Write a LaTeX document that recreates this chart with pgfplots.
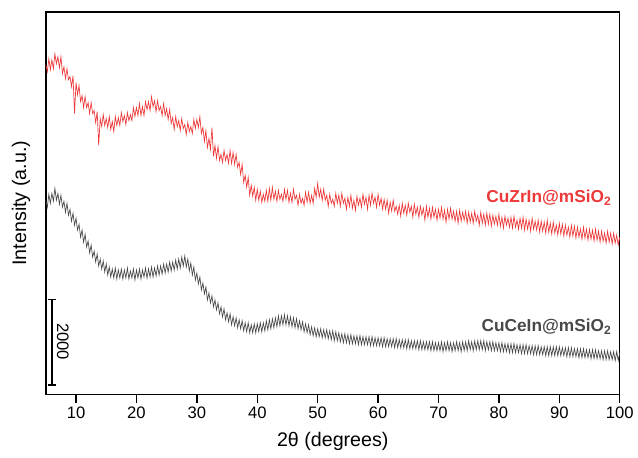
\documentclass[border=0pt]{standalone}
\usepackage{pgfplots}
\pgfplotsset{compat=1.18}
\usepackage{fontspec}
\setmainfont{Liberation Sans}
\usetikzlibrary{arrows.meta}
\definecolor{redline}{RGB}{236,56,56}
\definecolor{grayline}{RGB}{72,72,72}
\begin{document}
\begin{tikzpicture}
\begin{axis}[
  name=ax,
  scale only axis,
  width=432pt, height=288pt,
  xmin=5, xmax=100, ymin=0, ymax=384,
  xtick={10,20,...,100},
  ytick=\empty,
  xtick pos=bottom,
  tick align=outside,
  major tick length=6pt,
  axis line style={line width=1.1pt},
  every tick/.style={line width=1pt, black},
  /pgf/number format/assume math mode=true,
  tick label style={font=\fontsize{12.5}{14}\selectfont},
  xlabel={2θ (degrees)},
  ylabel={Intensity (a.u.)},
  label style={font=\fontsize{14.8}{17}\selectfont},
  xlabel style={yshift=-3pt},
  ylabel style={at={(axis description cs:-0.019,0.5)}, anchor=south},
  clip=false,
]
\addplot[redline, line width=0.5pt] coordinates {
(5,331)(5.25,324)(5.5,337)(5.75,326)(6,336)(6.25,327)(6.5,342)(6.75,332)(7,339)(7.25,328)(7.5,339)(7.75,322)(8,329)(8.25,317)(8.5,327)(8.75,316)(9,319)(9.25,309)(9.5,320)(9.75,282)
(10,313)(10.25,301)(10.5,310)(10.75,294)(11,300)(11.25,288)(11.5,299)(11.75,288)(12,293)(12.25,282)(12.5,293)(12.75,282)(13,285)(13.25,273)(13.5,284)(13.75,250)(14,277)(14.25,269)(14.5,281)(14.75,270)
(15,277)(15.25,268)(15.5,279)(15.75,266)(16,274)(16.25,264)(16.5,279)(16.75,270)(17,278)(17.25,270)(17.5,283)(17.75,274)(18,280)(18.25,271)(18.5,283)(18.75,275)(19,281)(19.25,275)(19.5,288)(19.75,279)
(20,288)(20.25,280)(20.5,292)(20.75,280)(21,289)(21.25,280)(21.5,294)(21.75,286)(22,294)(22.25,285)(22.5,299)(22.75,289)(23,295)(23.25,284)(23.5,295)(23.75,285)(24,289)(24.25,280)(24.5,292)(24.75,280)
(25,287)(25.25,276)(25.5,286)(25.75,272)(26,278)(26.25,266)(26.5,279)(26.75,269)(27,275)(27.25,265)(27.5,277)(27.75,267)(28,271)(28.25,261)(28.5,273)(28.75,264)(29,269)(29.25,262)(29.5,276)(29.75,267)
(30,276)(30.25,268)(30.5,279)(30.75,262)(31,268)(31.25,254)(31.5,265)(31.75,248)(32,257)(32.25,246)(32.5,268)(32.75,239)(33,250)(33.25,237)(33.5,249)(33.75,235)(34,241)(34.25,233)(34.5,245)(34.75,235)
(35,241)(35.25,232)(35.5,245)(35.75,232)(36,243)(36.25,231)(36.5,241)(36.75,228)(37,233)(37.25,221)(37.5,231)(37.75,213)(38,220)(38.25,208)(38.5,218)(38.75,200)(39,210)(39.25,199)(39.5,208)(39.75,195)
(40,206)(40.25,195)(40.5,204)(40.75,193)(41,201)(41.25,194)(41.5,205)(41.75,194)(42,207)(42.25,195)(42.5,208)(42.75,196)(43,204)(43.25,194)(43.5,205)(43.75,196)(44,201)(44.25,194)(44.5,206)(44.75,196)
(45,205)(45.25,193)(45.5,202)(45.75,193)(46,206)(46.25,196)(46.5,200)(46.75,190)(47,201)(47.25,192)(47.5,197)(47.75,190)(48,203)(48.25,193)(48.5,203)(48.75,192)(49,200)(49.25,192)(49.5,207)(49.75,198)
(50,212)(50.25,198)(50.5,206)(50.75,195)(51,206)(51.25,195)(51.5,200)(51.75,189)(52,201)(52.25,192)(52.5,196)(52.75,189)(53,202)(53.25,192)(53.5,200)(53.75,189)(54,202)(54.25,192)(54.5,197)(54.75,186)
(55,198)(55.25,189)(55.5,200)(55.75,187)(56,195)(56.25,185)(56.5,199)(56.75,190)(57,197)(57.25,188)(57.5,201)(57.75,191)(58,198)(58.25,186)(58.5,200)(58.75,190)(59,202)(59.25,192)(59.5,198)(59.75,188)
(60,201)(60.25,190)(60.5,197)(60.75,186)(61,196)(61.25,186)(61.5,195)(61.75,182)(62,193)(62.25,184)(62.5,195)(62.75,184)(63,189)(63.25,181)(63.5,190)(63.75,179)(64,192)(64.25,182)(64.5,190)(64.75,180)
(65,192)(65.25,183)(65.5,189)(65.75,178)(66,191)(66.25,181)(66.5,188)(66.75,178)(67,189)(67.25,180)(67.5,187)(67.75,175)(68,189)(68.25,178)(68.5,187)(68.75,176)(69,188)(69.25,178)(69.5,186)(69.75,175)
(70,186)(70.25,177)(70.5,188)(70.75,176)(71,185)(71.25,173)(71.5,186)(71.75,176)(72,187)(72.25,176)(72.5,184)(72.75,174)(73,184)(73.25,172)(73.5,185)(73.75,174)(74,183)(74.25,175)(74.5,184)(74.75,172)
(75,183)(75.25,173)(75.5,182)(75.75,172)(76,184)(76.25,174)(76.5,180)(76.75,170)(77,183)(77.25,172)(77.5,181)(77.75,170)(78,182)(78.25,171)(78.5,181)(78.75,169)(79,180)(79.25,171)(79.5,179)(79.75,170)
(80,181)(80.25,169)(80.5,178)(80.75,167)(81,179)(81.25,170)(81.5,177)(81.75,168)(82,178)(82.25,167)(82.5,179)(82.75,168)(83,175)(83.25,166)(83.5,177)(83.75,167)(84,178)(84.25,165)(84.5,176)(84.75,166)
(85,175)(85.25,164)(85.5,177)(85.75,166)(86,174)(86.25,165)(86.5,175)(86.75,163)(87,174)(87.25,164)(87.5,173)(87.75,162)(88,175)(88.25,163)(88.5,172)(88.75,161)(89,173)(89.25,162)(89.5,170)(89.75,160)
(90,172)(90.25,161)(90.5,171)(90.75,159)(91,170)(91.25,160)(91.5,168)(91.75,158)(92,170)(92.25,159)(92.5,169)(92.75,157)(93,168)(93.25,158)(93.5,166)(93.75,156)(94,168)(94.25,157)(94.5,166)(94.75,155)
(95,166)(95.25,156)(95.5,165)(95.75,154)(96,166)(96.25,155)(96.5,164)(96.75,153)(97,164)(97.25,154)(97.5,162)(97.75,152)(98,164)(98.25,153)(98.5,162)(98.75,151)(99,162)(99.25,152)(99.5,160)(99.75,150)(100,158)
};
\addplot[grayline, line width=0.5pt] coordinates {
(5,195)(5.25,188)(5.5,201)(5.75,192)(6,202)(6.25,194)(6.5,207)(6.75,195)(7,202)(7.25,191)(7.5,200)(7.75,188)(8,194)(8.25,183)(8.5,192)(8.75,180)(9,186)(9.25,174)(9.5,182)(9.75,170)
(10,177)(10.25,165)(10.5,171)(10.75,158)(11,165)(11.25,153)(11.5,161)(11.75,148)(12,154)(12.25,142)(12.5,150)(12.75,138)(13,144)(13.25,133)(13.5,141)(13.75,129)(14,136)(14.25,126)(14.5,134)(14.75,123)
(15,131)(15.25,120)(15.5,128)(15.75,118)(16,126)(16.25,117)(16.5,127)(16.75,116)(17,125)(17.25,117)(17.5,126)(17.75,116)(18,125)(18.25,117)(18.5,127)(18.75,116)(19,124)(19.25,117)(19.5,126)(19.75,115)
(20,125)(20.25,117)(20.5,126)(20.75,116)(21,125)(21.25,118)(21.5,127)(21.75,117)(22,126)(22.25,118)(22.5,128)(22.75,118)(23,127)(23.25,119)(23.5,129)(23.75,120)(24,129)(24.25,121)(24.5,131)(24.75,122)
(25,131)(25.25,123)(25.5,133)(25.75,124)(26,133)(26.25,125)(26.5,135)(26.75,126)(27,136)(27.25,127)(27.5,138)(27.75,129)(28,139)(28.25,128)(28.5,136)(28.75,124)(29,132)(29.25,120)(29.5,128)(29.75,115)
(30,122)(30.25,111)(30.5,118)(30.75,105)(31,112)(31.25,101)(31.5,108)(31.75,95)(32,102)(32.25,92)(32.5,99)(32.75,88)(33,95)(33.25,85)(33.5,92)(33.75,81)(34,88)(34.25,78)(34.5,86)(34.75,75)
(35,82)(35.25,73)(35.5,81)(35.75,70)(36,78)(36.25,69)(36.5,77)(36.75,67)(37,75)(37.25,66)(37.5,74)(37.75,64)(38,72)(38.25,63)(38.5,72)(38.75,62)(39,70)(39.25,62)(39.5,71)(39.75,62)
(40,71)(40.25,63)(40.5,72)(40.75,63)(41,72)(41.25,64)(41.5,74)(41.75,65)(42,75)(42.25,66)(42.5,76)(42.75,67)(43,77)(43.25,68)(43.5,79)(43.75,69)(44,79)(44.25,70)(44.5,80)(44.75,70)
(45,79)(45.25,69)(45.5,78)(45.75,68)(46,77)(46.25,67)(46.5,76)(46.75,66)(47,74)(47.25,65)(47.5,73)(47.75,63)(48,71)(48.25,62)(48.5,70)(48.75,60)(49,68)(49.25,59)(49.5,67)(49.75,58)
(50,66)(50.25,58)(50.5,66)(50.75,57)(51,65)(51.25,57)(51.5,65)(51.75,56)(52,64)(52.25,55)(52.5,64)(52.75,54)(53,63)(53.25,54)(53.5,62)(53.75,53)(54,61)(54.25,52)(54.5,61)(54.75,52)
(55,60)(55.25,51)(55.5,60)(55.75,51)(56,59)(56.25,51)(56.5,59)(56.75,50)(57,59)(57.25,50)(57.5,58)(57.75,50)(58,58)(58.25,50)(58.5,58)(58.75,49)(59,58)(59.25,49)(59.5,57)(59.75,49)
(60,57)(60.25,49)(60.5,57)(60.75,48)(61,57)(61.25,48)(61.5,56)(61.75,48)(62,56)(62.25,48)(62.5,56)(62.75,47)(63,56)(63.25,47)(63.5,55)(63.75,47)(64,55)(64.25,47)(64.5,55)(64.75,46)
(65,55)(65.25,46)(65.5,54)(65.75,46)(66,54)(66.25,46)(66.5,54)(66.75,45)(67,54)(67.25,45)(67.5,53)(67.75,45)(68,53)(68.25,45)(68.5,53)(68.75,44)(69,53)(69.25,44)(69.5,52)(69.75,44)
(70,52)(70.25,44)(70.5,53)(70.75,43)(71,52)(71.25,44)(71.5,53)(71.75,44)(72,52)(72.25,43)(72.5,52)(72.75,44)(73,53)(73.25,44)(73.5,52)(73.75,43)(74,53)(74.25,44)(74.5,53)(74.75,44)
(75,54)(75.25,45)(75.5,53)(75.75,44)(76,54)(76.25,45)(76.5,54)(76.75,45)(77,54)(77.25,45)(77.5,54)(77.75,44)(78,53)(78.25,45)(78.5,53)(78.75,44)(79,53)(79.25,44)(79.5,52)(79.75,44)
(80,52)(80.25,43)(80.5,52)(80.75,43)(81,51)(81.25,43)(81.5,51)(81.75,42)(82,51)(82.25,42)(82.5,51)(82.75,42)(83,50)(83.25,42)(83.5,50)(83.75,41)(84,50)(84.25,41)(84.5,50)(84.75,41)
(85,49)(85.25,41)(85.5,49)(85.75,40)(86,49)(86.25,40)(86.5,49)(86.75,40)(87,48)(87.25,40)(87.5,48)(87.75,39)(88,48)(88.25,39)(88.5,48)(88.75,39)(89,48)(89.25,39)(89.5,48)(89.75,39)
(90,48)(90.25,39)(90.5,47)(90.75,39)(91,47)(91.25,38)(91.5,47)(91.75,38)(92,47)(92.25,38)(92.5,46)(92.75,38)(93,46)(93.25,37)(93.5,46)(93.75,37)(94,46)(94.25,37)(94.5,45)(94.75,37)
(95,45)(95.25,36)(95.5,45)(95.75,36)(96,45)(96.25,36)(96.5,44)(96.75,36)(97,44)(97.25,35)(97.5,44)(97.75,35)(98,44)(98.25,35)(98.5,43)(98.75,35)(99,43)(99.25,34)(99.5,43)(99.75,34)(100,42)
};
\node[anchor=east, text=redline, font=\bfseries\fontsize{13}{15}\selectfont] at (axis cs:99.4,198) {CuZrIn@mSiO\textsubscript{2}};
\node[anchor=east, text=grayline, font=\bfseries\fontsize{13}{15}\selectfont] at (axis cs:99.4,68) {CuCeIn@mSiO\textsubscript{2}};
\draw[black, line width=1pt, {Bar[width=6pt]}-{Bar[width=6pt]}] (axis cs:6,9) -- (axis cs:6,96);
\node[rotate=-90, font=\fontsize{12.5}{14}\selectfont] at (axis cs:7.8,53) {2000};
\end{axis}
\path ([shift={(-34.5pt,-47.25pt)}]ax.south west) rectangle ([shift={(12pt,9pt)}]ax.north east);
\end{tikzpicture}
\end{document}
